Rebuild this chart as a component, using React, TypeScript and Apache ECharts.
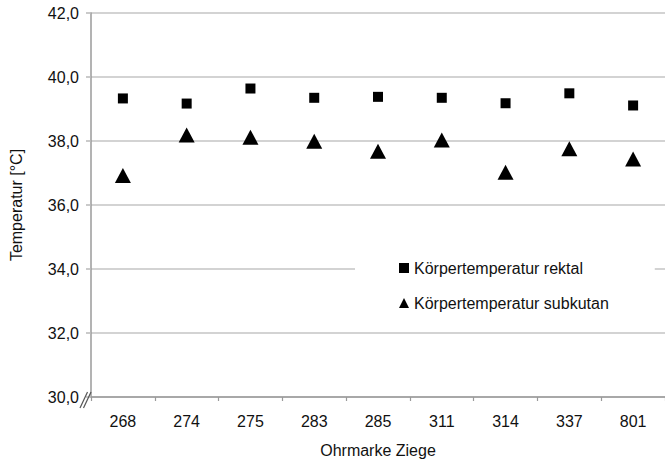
import React, { useEffect, useRef } from "react";
import * as echarts from "echarts";

const categories = ["268", "274", "275", "283", "285", "311", "314", "337", "801"];
const rektal = [39.33, 39.17, 39.64, 39.35, 39.38, 39.35, 39.18, 39.49, 39.11];
const subkutan = [36.92, 38.19, 38.12, 37.99, 37.68, 38.03, 37.02, 37.76, 37.44];
const seriesNames = ["Körpertemperatur rektal", "Körpertemperatur subkutan"];
const yTicks = { min: 30, max: 42, interval: 2 };

const FONT = "'Liberation Sans', Arial, Helvetica, sans-serif";
const TEXT = "#111111";

export default function App() {
  const ref = useRef<HTMLDivElement>(null);
  useEffect(() => {
    if (!ref.current) return;
    const chart = echarts.init(ref.current, null, { renderer: "svg" });
    chart.setOption({
      animation: false,
      backgroundColor: "#ffffff",
      textStyle: { fontFamily: FONT },
      grid: { left: 90, top: 13, width: 584, height: 388 },
      xAxis: {
        type: "category",
        data: categories,
        boundaryGap: true,
        name: "Ohrmarke Ziege",
        nameLocation: "middle",
        nameGap: 45,
        nameTextStyle: { fontFamily: FONT, fontSize: 16, color: TEXT },
        axisLine: { lineStyle: { color: "#9a9a9a", width: 1.5 } },
        axisTick: { show: true, length: 4, lineStyle: { color: "#9a9a9a", width: 1.2 } },
        axisLabel: { margin: 16, fontFamily: FONT, fontSize: 16, color: TEXT },
        splitLine: { show: false },
      },
      yAxis: {
        type: "value",
        min: yTicks.min,
        max: yTicks.max,
        interval: yTicks.interval,
        name: "Temperatur [°C]",
        nameLocation: "middle",
        nameGap: 67,
        nameTextStyle: { fontFamily: FONT, fontSize: 16, color: TEXT },
        axisLine: { show: true, lineStyle: { color: "#9a9a9a", width: 1.5 } },
        axisTick: { show: true, length: 5, lineStyle: { color: "#b8b8b8", width: 1.5 } },
        axisLabel: {
          margin: 12,
          fontFamily: FONT,
          fontSize: 16,
          color: TEXT,
          formatter: (v: number) => v.toFixed(1).replace(".", ","),
        },
        splitLine: { show: true, lineStyle: { color: "#c4c4c4", width: 1.5 } },
      },
      legend: {
        orient: "vertical",
        left: 355,
        top: 253,
        padding: [6, 46, 6, 44],
        backgroundColor: "#ffffff",
        itemWidth: 10,
        itemHeight: 10,
        itemGap: 17,
        textStyle: { fontFamily: FONT, fontSize: 16, color: TEXT, lineHeight: 18 },
        data: [
          { name: seriesNames[0], icon: "rect", itemStyle: { color: "#000", opacity: 1 } },
          { name: seriesNames[1], icon: "triangle", itemStyle: { color: "#000", opacity: 1 } },
        ],
      },
      graphic: [
        {
          type: "line",
          z: 10,
          shape: { x1: 80, y1: 408, x2: 87.5, y2: 392 },
          style: { stroke: "#555", lineWidth: 1.2 },
        },
        {
          type: "line",
          z: 10,
          shape: { x1: 83.5, y1: 408, x2: 91, y2: 392 },
          style: { stroke: "#555", lineWidth: 1.2 },
        },
      ],
      series: [
        {
          name: seriesNames[0],
          type: "scatter",
          data: rektal,
          symbol: "rect",
          symbolSize: 10,
          itemStyle: { color: "#000000", opacity: 1 },
        },
        {
          name: seriesNames[1],
          type: "scatter",
          data: subkutan,
          symbol: "triangle",
          symbolSize: [16, 15],
          itemStyle: { color: "#000000", opacity: 1 },
        },
      ],
    });
    return () => chart.dispose();
  }, []);
  return (
    <div
      ref={ref}
      style={{ position: "fixed", left: 0, top: 0, width: 665, height: 463 }}
    />
  );
}
